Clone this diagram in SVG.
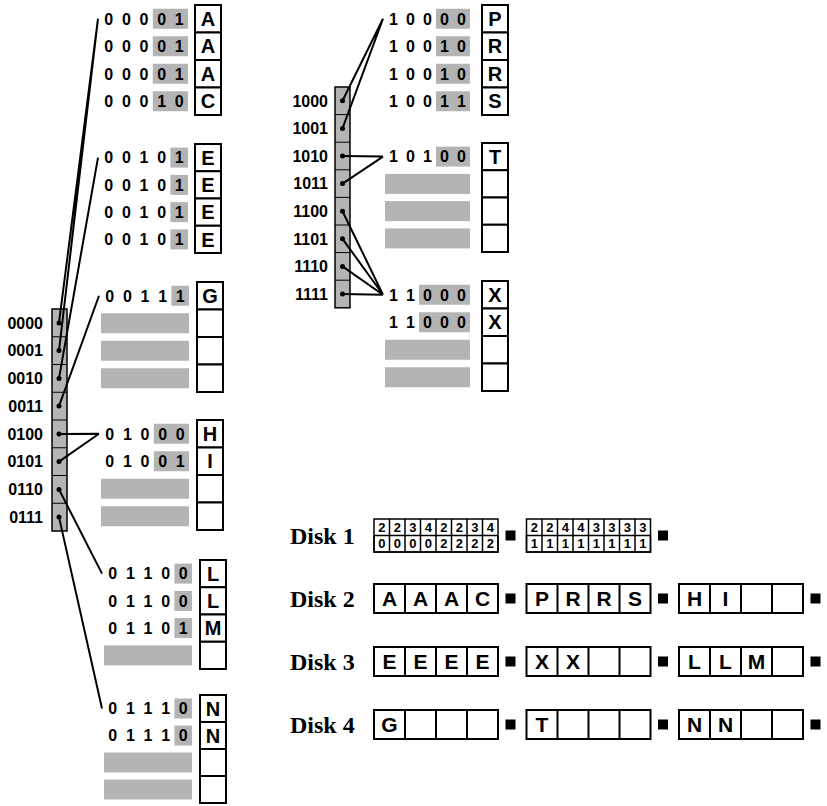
<svg xmlns="http://www.w3.org/2000/svg" width="827" height="806" viewBox="0 0 827 806">
<style>
.gr{fill:#b4b4b4}
.k{font-family:"Liberation Sans",Arial,sans-serif;font-weight:bold;font-size:16px;text-anchor:middle;fill:#000}
.lab{font-family:"Liberation Sans",Arial,sans-serif;font-weight:bold;font-size:16px;text-anchor:end;fill:#000}
.bx{fill:#fff;stroke:#000;stroke-width:2}
.lt{font-family:"Liberation Sans",Arial,sans-serif;font-weight:bold;font-size:20px;text-anchor:middle;fill:#000}
.dt{font-family:"Liberation Sans",Arial,sans-serif;font-weight:bold;font-size:21px;text-anchor:middle;fill:#000}
.sm{font-family:"Liberation Sans",Arial,sans-serif;font-weight:bold;font-size:13px;text-anchor:middle;fill:#000}
.dl{font-family:"Liberation Serif","Times New Roman",serif;font-weight:bold;font-size:24px;fill:#000}
.dir{fill:#b4b4b4;stroke:#000;stroke-width:1.5}
.dv{stroke:#000;stroke-width:1;fill:none}
.ln{stroke:#000;stroke-width:2;fill:none}
.tv{stroke:#000;stroke-width:1.5;fill:none}
</style>

<g id="dirLeft">
<rect class="dir" x="52" y="309" width="15" height="222"/>
<path class="dv" d="M52 336.75H67M52 364.5H67M52 392.25H67M52 420H67M52 447.75H67M52 475.5H67M52 503.25H67"/>
<g fill="#000">
<circle cx="59" cy="322.9" r="2.5"/><circle cx="59" cy="350.6" r="2.5"/><circle cx="59" cy="378.4" r="2.5"/><circle cx="59" cy="406.1" r="2.5"/>
<circle cx="59" cy="433.9" r="2.5"/><circle cx="59" cy="461.6" r="2.5"/><circle cx="59" cy="489.4" r="2.5"/><circle cx="59" cy="517.1" r="2.5"/>
</g>
<text class="lab" x="43" y="328.7">0000</text>
<text class="lab" x="43" y="356.4">0001</text>
<text class="lab" x="43" y="384.2">0010</text>
<text class="lab" x="43" y="411.9">0011</text>
<text class="lab" x="43" y="439.7">0100</text>
<text class="lab" x="43" y="467.4">0101</text>
<text class="lab" x="43" y="495.2">0110</text>
<text class="lab" x="43" y="522.9">0111</text>
</g>

<g id="dirRight">
<rect class="dir" x="335" y="87" width="15" height="220.8"/>
<path class="dv" d="M335 114.6H350M335 142.2H350M335 169.8H350M335 197.4H350M335 225H350M335 252.6H350M335 280.2H350"/>
<g fill="#000">
<circle cx="342.5" cy="100.8" r="2.5"/><circle cx="342.5" cy="128.4" r="2.5"/><circle cx="342.5" cy="156" r="2.5"/><circle cx="342.5" cy="183.6" r="2.5"/>
<circle cx="342.5" cy="211.2" r="2.5"/><circle cx="342.5" cy="238.8" r="2.5"/><circle cx="342.5" cy="266.4" r="2.5"/><circle cx="342.5" cy="294" r="2.5"/>
</g>
<text class="lab" x="328" y="106.6">1000</text>
<text class="lab" x="328" y="134.2">1001</text>
<text class="lab" x="328" y="161.8">1010</text>
<text class="lab" x="328" y="189.4">1011</text>
<text class="lab" x="328" y="217">1100</text>
<text class="lab" x="328" y="244.6">1101</text>
<text class="lab" x="328" y="272.2">1110</text>
<text class="lab" x="328" y="299.8">1111</text>
</g>

<g id="connectors">
<path class="ln" d="M59 322.9L98 18.75M59 350.6L98 18.75M59 378.4L98 157.6M59 406.1L99 295.75M59 433.9L99 433.75M59 461.6L99 433.75M59 489.4L102 573.6M59 517.1L102 708.5"/>
<path class="ln" d="M342.5 100.8L383 18.75M342.5 128.4L383 18.75M342.5 156L383 156.6M342.5 183.6L383 156.6M342.5 211.2L383 294.75M342.5 238.8L383 294.75M342.5 266.4L383 294.75M342.5 294L383 294.75"/>
</g>

<g id="bucketA">
<rect class="gr" x="152.8" y="8.75" width="35.2" height="20"/>
<rect class="gr" x="152.8" y="36.25" width="35.2" height="20"/>
<rect class="gr" x="152.8" y="63.75" width="35.2" height="20"/>
<rect class="gr" x="152.8" y="91.25" width="35.2" height="20"/>
<text class="k" x="108.8 126.4 144 161.6 179.2" y="24.55">00001</text>
<text class="k" x="108.8 126.4 144 161.6 179.2" y="52.05">00001</text>
<text class="k" x="108.8 126.4 144 161.6 179.2" y="79.55">00001</text>
<text class="k" x="108.8 126.4 144 161.6 179.2" y="107.05">00010</text>
<rect class="bx" x="195" y="5" width="26" height="27.5"/>
<rect class="bx" x="195" y="32.5" width="26" height="27.5"/>
<rect class="bx" x="195" y="60" width="26" height="27.5"/>
<rect class="bx" x="195" y="87.5" width="26" height="27.5"/>
<text class="lt" x="208" y="25.95">A</text>
<text class="lt" x="208" y="53.45">A</text>
<text class="lt" x="208" y="80.95">A</text>
<text class="lt" x="208" y="108.45">C</text>
</g>

<g id="bucketE">
<rect class="gr" x="170.4" y="147.6" width="17.6" height="20"/>
<rect class="gr" x="170.4" y="174.9" width="17.6" height="20"/>
<rect class="gr" x="170.4" y="202.1" width="17.6" height="20"/>
<rect class="gr" x="170.4" y="229.4" width="17.6" height="20"/>
<text class="k" x="108.8 126.4 144 161.6 179.2" y="163.4">00101</text>
<text class="k" x="108.8 126.4 144 161.6 179.2" y="190.7">00101</text>
<text class="k" x="108.8 126.4 144 161.6 179.2" y="217.9">00101</text>
<text class="k" x="108.8 126.4 144 161.6 179.2" y="245.2">00101</text>
<rect class="bx" x="195" y="144" width="26" height="27.25"/>
<rect class="bx" x="195" y="171.25" width="26" height="27.25"/>
<rect class="bx" x="195" y="198.5" width="26" height="27.25"/>
<rect class="bx" x="195" y="225.75" width="26" height="27.25"/>
<text class="lt" x="208" y="164.8">E</text>
<text class="lt" x="208" y="192.1">E</text>
<text class="lt" x="208" y="219.3">E</text>
<text class="lt" x="208" y="246.6">E</text>
</g>

<g id="bucketG">
<rect class="gr" x="171.4" y="285.75" width="17.6" height="20"/>
<text class="k" x="109.8 127.4 145 162.6 180.2" y="301.55">00111</text>
<rect class="gr" x="101" y="313.25" width="88" height="20"/>
<rect class="gr" x="101" y="340.75" width="88" height="20"/>
<rect class="gr" x="101" y="368.25" width="88" height="20"/>
<rect class="bx" x="197" y="282" width="26" height="27.5"/>
<rect class="bx" x="197" y="309.5" width="26" height="27.5"/>
<rect class="bx" x="197" y="337" width="26" height="27.5"/>
<rect class="bx" x="197" y="364.5" width="26" height="27.5"/>
<text class="lt" x="210" y="302.95">G</text>
</g>

<g id="bucketH">
<rect class="gr" x="153.8" y="423.75" width="35.2" height="20"/>
<rect class="gr" x="153.8" y="451.25" width="35.2" height="20"/>
<text class="k" x="109.8 127.4 145 162.6 180.2" y="439.55">01000</text>
<text class="k" x="109.8 127.4 145 162.6 180.2" y="467.05">01001</text>
<rect class="gr" x="101" y="478.75" width="88" height="20"/>
<rect class="gr" x="101" y="506.25" width="88" height="20"/>
<rect class="bx" x="197" y="420" width="26" height="27.5"/>
<rect class="bx" x="197" y="447.5" width="26" height="27.5"/>
<rect class="bx" x="197" y="475" width="26" height="27.5"/>
<rect class="bx" x="197" y="502.5" width="26" height="27.5"/>
<text class="lt" x="210" y="440.95">H</text>
<text class="lt" x="210" y="468.45">I</text>
</g>

<g id="bucketL">
<rect class="gr" x="174.4" y="563.6" width="17.6" height="20"/>
<rect class="gr" x="174.4" y="590.9" width="17.6" height="20"/>
<rect class="gr" x="174.4" y="618.1" width="17.6" height="20"/>
<text class="k" x="112.8 130.4 148 165.6 183.2" y="579.4">01100</text>
<text class="k" x="112.8 130.4 148 165.6 183.2" y="606.7">01100</text>
<text class="k" x="112.8 130.4 148 165.6 183.2" y="633.9">01101</text>
<rect class="gr" x="104" y="645.4" width="88" height="20"/>
<rect class="bx" x="200" y="560" width="26" height="27.25"/>
<rect class="bx" x="200" y="587.25" width="26" height="27.25"/>
<rect class="bx" x="200" y="614.5" width="26" height="27.25"/>
<rect class="bx" x="200" y="641.75" width="26" height="27.25"/>
<text class="lt" x="213" y="580.8">L</text>
<text class="lt" x="213" y="608.1">L</text>
<text class="lt" x="213" y="635.3">M</text>
</g>

<g id="bucketN">
<rect class="gr" x="174.4" y="698.5" width="17.6" height="20"/>
<rect class="gr" x="174.4" y="725.5" width="17.6" height="20"/>
<text class="k" x="112.8 130.4 148 165.6 183.2" y="714.3">01110</text>
<text class="k" x="112.8 130.4 148 165.6 183.2" y="741.3">01110</text>
<rect class="gr" x="104" y="752.5" width="88" height="20"/>
<rect class="gr" x="104" y="779.5" width="88" height="20"/>
<rect class="bx" x="200" y="695" width="26" height="27"/>
<rect class="bx" x="200" y="722" width="26" height="27"/>
<rect class="bx" x="200" y="749" width="26" height="27"/>
<rect class="bx" x="200" y="776" width="26" height="27"/>
<text class="lt" x="213" y="715.7">N</text>
<text class="lt" x="213" y="742.7">N</text>
</g>

<g id="bucketP">
<rect class="gr" x="436" y="8.75" width="34" height="20"/>
<rect class="gr" x="436" y="36.25" width="34" height="20"/>
<rect class="gr" x="436" y="63.75" width="34" height="20"/>
<rect class="gr" x="436" y="91.25" width="34" height="20"/>
<text class="k" x="393.5 410.5 427.5 444.5 461.5" y="24.55">10000</text>
<text class="k" x="393.5 410.5 427.5 444.5 461.5" y="52.05">10010</text>
<text class="k" x="393.5 410.5 427.5 444.5 461.5" y="79.55">10010</text>
<text class="k" x="393.5 410.5 427.5 444.5 461.5" y="107.05">10011</text>
<rect class="bx" x="482" y="5" width="26" height="27.5"/>
<rect class="bx" x="482" y="32.5" width="26" height="27.5"/>
<rect class="bx" x="482" y="60" width="26" height="27.5"/>
<rect class="bx" x="482" y="87.5" width="26" height="27.5"/>
<text class="lt" x="495" y="25.95">P</text>
<text class="lt" x="495" y="53.45">R</text>
<text class="lt" x="495" y="80.95">R</text>
<text class="lt" x="495" y="108.45">S</text>
</g>

<g id="bucketT">
<rect class="gr" x="436" y="146.6" width="34" height="20"/>
<text class="k" x="393.5 410.5 427.5 444.5 461.5" y="162.4">10100</text>
<rect class="gr" x="385" y="173.9" width="85" height="20"/>
<rect class="gr" x="385" y="201.1" width="85" height="20"/>
<rect class="gr" x="385" y="228.4" width="85" height="20"/>
<rect class="bx" x="482" y="143" width="26" height="27.25"/>
<rect class="bx" x="482" y="170.25" width="26" height="27.25"/>
<rect class="bx" x="482" y="197.5" width="26" height="27.25"/>
<rect class="bx" x="482" y="224.75" width="26" height="27.25"/>
<text class="lt" x="495" y="163.8">T</text>
</g>

<g id="bucketX">
<rect class="gr" x="419" y="284.75" width="51" height="20"/>
<rect class="gr" x="419" y="312.25" width="51" height="20"/>
<text class="k" x="393.5 410.5 427.5 444.5 461.5" y="300.55">11000</text>
<text class="k" x="393.5 410.5 427.5 444.5 461.5" y="328.05">11000</text>
<rect class="gr" x="385" y="339.75" width="85" height="20"/>
<rect class="gr" x="385" y="367.25" width="85" height="20"/>
<rect class="bx" x="482" y="281" width="26" height="27.5"/>
<rect class="bx" x="482" y="308.5" width="26" height="27.5"/>
<rect class="bx" x="482" y="336" width="26" height="27.5"/>
<rect class="bx" x="482" y="363.5" width="26" height="27.5"/>
<text class="lt" x="495" y="301.95">X</text>
<text class="lt" x="495" y="329.45">X</text>
</g>

<g id="disk1">
<text class="dl" x="290" y="544">Disk 1</text>
<rect fill="#fff" class="tv" x="374" y="519" width="124" height="33"/>
<rect class="gr tv" x="374" y="535.5" width="124" height="16.5"/>
<path class="tv" d="M389.5 519V552M405 519V552M420.5 519V552M436 519V552M451.5 519V552M467 519V552M482.5 519V552"/>
<text class="sm" x="381.75 397.25 412.75 428.25 443.75 459.25 474.75 490.25" y="532">22342234</text>
<text class="sm" x="381.75 397.25 412.75 428.25 443.75 459.25 474.75 490.25" y="548.4">00002222</text>
<rect x="505.5" y="530.5" width="10" height="10" fill="#000"/>
<rect fill="#fff" class="tv" x="526.5" y="519" width="124" height="33"/>
<rect class="gr tv" x="526.5" y="535.5" width="124" height="16.5"/>
<path class="tv" d="M542 519V552M557.5 519V552M573 519V552M588.5 519V552M604 519V552M619.5 519V552M635 519V552"/>
<text class="sm" x="534.25 549.75 565.25 580.75 596.25 611.75 627.25 642.75" y="532">22443333</text>
<text class="sm" x="534.25 549.75 565.25 580.75 596.25 611.75 627.25 642.75" y="548.4">11111111</text>
<rect x="658" y="530.5" width="10" height="10" fill="#000"/>
</g>

<g id="disk2">
<text class="dl" x="290" y="606.5">Disk 2</text>
<rect class="bx" x="374" y="584" width="124" height="29"/>
<path class="ln" d="M405 584V613M436 584V613M467 584V613"/>
<text class="dt" x="389.5 420.5 451.5 482.5" y="606">AAAC</text>
<rect x="505.5" y="593.5" width="10" height="10" fill="#000"/>
<rect class="bx" x="526.5" y="584" width="124" height="29"/>
<path class="ln" d="M557.5 584V613M588.5 584V613M619.5 584V613"/>
<text class="dt" x="542 573 604 635" y="606">PRRS</text>
<rect x="658" y="593.5" width="10" height="10" fill="#000"/>
<rect class="bx" x="679" y="584" width="124" height="29"/>
<path class="ln" d="M710 584V613M741 584V613M772 584V613"/>
<text class="dt" x="694.5 725.5" y="606">HI</text>
<rect x="810.5" y="593.5" width="10" height="10" fill="#000"/>
</g>

<g id="disk3">
<text class="dl" x="290" y="669.5">Disk 3</text>
<rect class="bx" x="374" y="647" width="124" height="29"/>
<path class="ln" d="M405 647V676M436 647V676M467 647V676"/>
<text class="dt" x="389.5 420.5 451.5 482.5" y="669">EEEE</text>
<rect x="505.5" y="656.5" width="10" height="10" fill="#000"/>
<rect class="bx" x="526.5" y="647" width="124" height="29"/>
<path class="ln" d="M557.5 647V676M588.5 647V676M619.5 647V676"/>
<text class="dt" x="542 573" y="669">XX</text>
<rect x="658" y="656.5" width="10" height="10" fill="#000"/>
<rect class="bx" x="679" y="647" width="124" height="29"/>
<path class="ln" d="M710 647V676M741 647V676M772 647V676"/>
<text class="dt" x="694.5 725.5 756.5" y="669">LLM</text>
<rect x="810.5" y="656.5" width="10" height="10" fill="#000"/>
</g>

<g id="disk4">
<text class="dl" x="290" y="732.5">Disk 4</text>
<rect class="bx" x="374" y="710" width="124" height="29"/>
<path class="ln" d="M405 710V739M436 710V739M467 710V739"/>
<text class="dt" x="389.5" y="732">G</text>
<rect x="505.5" y="719.5" width="10" height="10" fill="#000"/>
<rect class="bx" x="526.5" y="710" width="124" height="29"/>
<path class="ln" d="M557.5 710V739M588.5 710V739M619.5 710V739"/>
<text class="dt" x="542" y="732">T</text>
<rect x="658" y="719.5" width="10" height="10" fill="#000"/>
<rect class="bx" x="679" y="710" width="124" height="29"/>
<path class="ln" d="M710 710V739M741 710V739M772 710V739"/>
<text class="dt" x="694.5 725.5" y="732">NN</text>
<rect x="810.5" y="719.5" width="10" height="10" fill="#000"/>
</g>
</svg>
